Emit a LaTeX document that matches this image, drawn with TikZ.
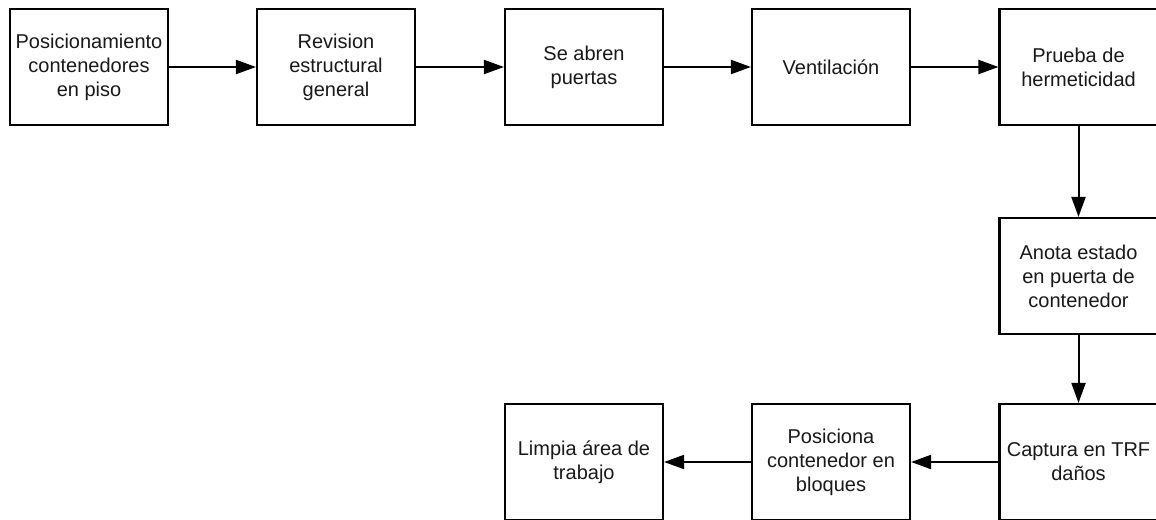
\documentclass[tikz,border=0pt]{standalone}
\usepackage{fontspec}
\setmainfont{Liberation Sans}
\usetikzlibrary{arrows.meta}
\begin{document}
\begin{tikzpicture}[x=0.75pt,y=-0.75pt,
  procbox/.style={draw=black,line width=1.6pt,fill=white,minimum width=118.5pt,minimum height=87pt,
    align=center,inner sep=2pt,font=\fontsize{15}{18}\selectfont,text=black!90},
  flow/.style={line width=1.5pt,-{Triangle[length=15pt,width=10.5pt]}}]
\useasboundingbox (0,0) rectangle (1156,519);
% top row
\node[procbox] (b1) at (89,67) {Posicionamiento\\contenedores\\en piso};
\node[procbox] (b2) at (336,67) {Revision\\estructural\\general};
\node[procbox] (b3) at (584,67) {Se abren\\puertas};
\node[procbox] (b4) at (831,67) {Ventilación};
\node[procbox] (b5) at (1078.5,67) {Prueba de\\hermeticidad};
% right column
\node[procbox] (b6) at (1078.5,276) {Anota estado\\en puerta de\\contenedor};
\node[procbox] (b7) at (1078.5,462) {Captura en TRF\\daños};
% bottom row
\node[procbox] (b8) at (831,462) {Posiciona\\contenedor en\\bloques};
\node[procbox] (b9) at (584,462) {Limpia área de\\trabajo};
% connectors
\draw[flow] (b1) -- (b2);
\draw[flow] (b2) -- (b3);
\draw[flow] (b3) -- (b4);
\draw[flow] (b4) -- (b5);
\draw[flow] (b5) -- (b6);
\draw[flow] (b6) -- (b7);
\draw[flow] (b7) -- (b8);
\draw[flow] (b8) -- (b9);
\end{tikzpicture}
\end{document}
